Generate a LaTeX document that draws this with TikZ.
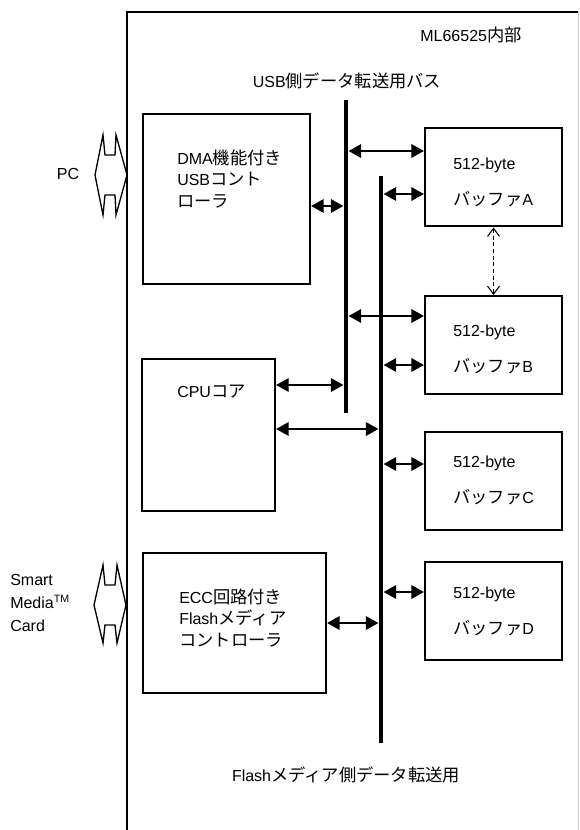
\documentclass[tikz,border=0pt]{standalone}
\usepackage{fontspec}
\setmainfont{Liberation Sans}
\newfontfamily\jp[Scale=1.08]{Noto Sans CJK JP}
\usetikzlibrary{arrows.meta}

\tikzset{
  blk/.style={draw, line width=1.5pt, inner sep=0pt},
  txt/.style={inner sep=0pt, align=left, font=\fontsize{12}{16}\selectfont},
  buftxt/.style={inner sep=0pt, align=left, font=\fontsize{12}{27}\selectfont},
  bus/.style={line width=3.5pt},
  biarrow/.style={line width=1.8pt, {Triangle[length=9.5pt,width=10pt]}-{Triangle[length=9.5pt,width=10pt]}},
  swaparrow/.style={line width=0.8pt, dash pattern=on 3pt off 2pt,
    {Straight Barb[length=6pt,width=9pt]}-{Straight Barb[length=6pt,width=9pt]}},
  plug/.style={line width=1pt, line join=miter},
}

\begin{document}
\begin{tikzpicture}[x=0.75pt, y=-0.75pt]
    \useasboundingbox (0,0) rectangle (579,830);
    % chip outline
    \draw[line width=1.5pt] (127,830) |- (578,12);
    \draw[gray!40, line width=0.6pt] (578,12) -- (578,830);
    \node[txt] (chiplbl) at (471,35) {ML66525{\jp 内部}};

    % external connectors
    \node[txt] (pclbl) at (68,174) {PC};
    \draw[plug] (95,175) -- (103,135) -- (105,155) -- (115,155) -- (116,135) -- (127,175)
        -- (116,215) -- (115,195) -- (105,195) -- (103,215) -- cycle;
    \node[txt, anchor=west, font=\fontsize{12}{17.5}\selectfont] (smlbl) at (10,603)
        {Smart\\Media\textsuperscript{TM}\\Card};
    \draw[plug] (94,605) -- (103,565) -- (105,585) -- (115,585) -- (117,565) -- (126,605)
        -- (117,643) -- (115,625) -- (105,625) -- (103,643) -- cycle;

    % blocks
    \node[blk, minimum width=125.25pt, minimum height=127.5pt] (dma) at (226.5,199) {};
    \node[txt, anchor=west] (dmatxt) at (177,179) {DMA{\jp 機能付き}\\USB{\jp コント}\\{\jp ローラ}};
    \node[blk, minimum width=99.75pt, minimum height=114pt] (cpu) at (208.5,435) {};
    \node[txt, anchor=west] (cputxt) at (177,392) {CPU{\jp コア}};
    \node[blk, minimum width=137.25pt, minimum height=105pt] (ecc) at (234.5,623) {};
    \node[txt, anchor=west] (ecctxt) at (179,618) {ECC{\jp 回路付き}\\Flash{\jp メディア}\\{\jp コントローラ}};

    \foreach \n/\y/\ty in {A/177.5/182, B/345/349, C/480.5/480.5, D/610.5/611.5} {
        \node[blk, minimum width=102.75pt, minimum height=73.5pt] (buf\n) at (493.5,\y) {};
        \node[buftxt, anchor=west] (buf\n txt) at (453,\ty) {512-byte\\{\jp バッファ}\n};
    }

    % buses
    \coordinate (usbtop) at (346,100);
    \coordinate (usbbot) at (346,413);
    \coordinate (fltop) at (381,176);
    \coordinate (flbot) at (381,743);
    \coordinate (usbw) at (343.5,0);
    \coordinate (usbe) at (348.5,0);
    \coordinate (flw) at (378.5,0);
    \coordinate (fle) at (383.5,0);
    \draw[bus] (usbtop) -- (usbbot);
    \draw[bus] (fltop) -- (flbot);
    \node[txt] (usblbl) at (347,81) {USB{\jp 側データ転送用バス}};
    \node[txt] (fllbl) at (346,775) {Flash{\jp メディア側データ転送用}};

    % transfers
    \draw[biarrow] (dma.east |- 0,206) -- (usbw |- 0,206);
    \draw[biarrow] (cpu.east |- 0,385) -- (usbw |- 0,385);
    \draw[biarrow] (cpu.east |- 0,429) -- (flw |- 0,429);
    \draw[biarrow] (ecc.east |- 0,623) -- (flw |- 0,623);
    \draw[biarrow] (usbe |- 0,151) -- (bufA.west |- 0,151);
    \draw[biarrow] (fle |- 0,194) -- (bufA.west |- 0,194);
    \draw[biarrow] (usbe |- 0,316) -- (bufB.west |- 0,316);
    \draw[biarrow] (fle |- 0,365) -- (bufB.west |- 0,365);
    \draw[biarrow] (fle |- 0,464) -- (bufC.west |- 0,464);
    \draw[biarrow] (fle |- 0,592) -- (bufD.west |- 0,592);
    \draw[swaparrow] (bufA.south) -- (bufB.north);
\end{tikzpicture}
\end{document}
